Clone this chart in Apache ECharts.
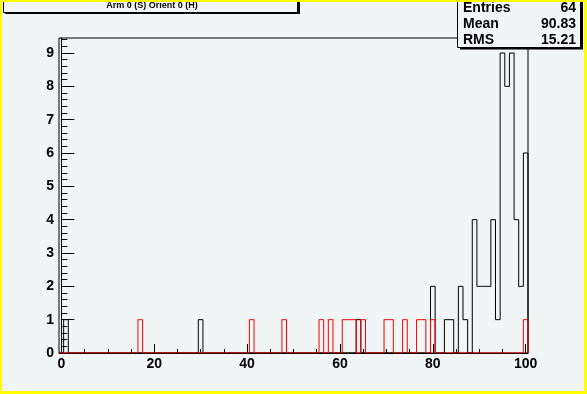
<!DOCTYPE html>
<html><head><meta charset="utf-8">
<script src="https://cdn.jsdelivr.net/npm/echarts@6/dist/echarts.min.js"></script>
<style>html,body{margin:0;padding:0;background:#f2f5f6;overflow:hidden}#c{width:587px;height:394px;}</style>
</head><body><div id="c"></div>
<script>
// ---- data ----
const titleText = 'Arm 0 (S) Orient 0 (H)';
const statNames = ['Entries', 'Mean', 'RMS'];
const statValues = ['64', '90.83', '15.21'];
const xTickLabels = [0, 20, 40, 60, 80, 100];
const xMinorTicks = [5, 10, 15, 25, 30, 35, 45, 50, 55, 65, 70, 75, 85, 90, 95];
const yTickLabels = [0, 1, 2, 3, 4, 5, 6, 7, 8, 9];
const histLow = -0.5, histHigh = 100.5, binWidth = 1;
const blackBins = [1, 30, 64, 80, 83, 84, 86, 87, 89, 90, 91, 92, 93, 94, 95, 96, 97, 98, 99, 100];
const blackCounts = [1, 1, 1, 2, 1, 1, 2, 1, 4, 2, 2, 2, 4, 1, 9, 8, 9, 4, 2, 6];
const redBins = [17, 41, 48, 56, 58, 61, 62, 63, 65, 70, 71, 74, 77, 78, 80, 100];
const redCounts = [1, 1, 1, 1, 1, 1, 1, 1, 1, 1, 1, 1, 1, 1, 1, 1];

// ---- build outlines ----
function outline(bins, counts) {
  const n = Math.round((histHigh - histLow) / binWidth);
  const full = new Array(n).fill(0);
  bins.forEach((b, i) => { full[Math.round((b - histLow - binWidth / 2) / binWidth)] = counts[i]; });
  const pts = [[histLow, 0]];
  for (let i = 0; i < n; i++) {
    const lo = histLow + i * binWidth, hi = lo + binWidth;
    pts.push([lo, full[i]], [hi, full[i]]);
  }
  pts.push([histHigh, 0]);
  return pts;
}
const yMinor = [];
for (let v = 0; v <= 9.4001; v += 0.2) yMinor.push(+v.toFixed(1));

const BG = '#f2f5f6';
const font = 'Liberation Sans, Arial, sans-serif';
const chart = echarts.init(document.getElementById('c'), null, { renderer: 'canvas' });
const yMax = 9.45;
chart.setOption({
  animation: false,
  backgroundColor: BG,
  grid: { left: 59, right: 59, top: 38, bottom: 41, show: true, borderColor: '#000', borderWidth: 1, backgroundColor: BG },
  xAxis: [{
    type: 'value', min: histLow, max: histHigh,
    axisLine: { show: true, lineStyle: { color: '#000' } },
    splitLine: { show: false },
    axisTick: { show: true, inside: true, length: 9, customValues: xTickLabels, lineStyle: { color: '#000' } },
    axisLabel: { customValues: xTickLabels, color: '#000', fontWeight: 'bold', fontSize: 14, fontFamily: font, margin: 4 }
  }, {
    type: 'value', min: histLow, max: histHigh, position: 'bottom',
    axisLine: { show: false }, splitLine: { show: false },
    axisTick: { show: true, inside: true, length: 4, customValues: xMinorTicks, lineStyle: { color: '#000' } },
    axisLabel: { show: false }
  }],
  yAxis: [{
    type: 'value', min: 0, max: yMax, interval: 1,
    axisLine: { show: true, lineStyle: { color: '#000' } },
    splitLine: { show: false },
    axisTick: { show: true, inside: true, length: 13, customValues: yTickLabels, lineStyle: { color: '#000' } },
    axisLabel: { customValues: yTickLabels, color: '#000', fontWeight: 'bold', fontSize: 14, fontFamily: font, margin: 5 }
  }, {
    type: 'value', min: 0, max: yMax, position: 'left',
    axisLine: { show: false }, splitLine: { show: false },
    axisTick: { show: true, inside: true, length: 6, customValues: yMinor, lineStyle: { color: '#000' } },
    axisLabel: { show: false }
  }],
  series: [{
    type: 'line', data: outline(blackBins, blackCounts), showSymbol: false, symbol: 'none',
    lineStyle: { color: '#000', width: 1 }, z: 3
  }, {
    type: 'line', data: outline(redBins, redCounts), showSymbol: false, symbol: 'none',
    lineStyle: { color: '#ff0000', width: 1 }, z: 4
  }],
  graphic: [
    { type: 'rect', shape: { x: 0.5, y: 0.5, width: 585, height: 392 }, style: { fill: 'none', stroke: '#ffff00', lineWidth: 3 }, z: 100 },
    // title box
    { type: 'rect', shape: { x: 5, y: -2, width: 295, height: 16 }, style: { fill: '#000' }, z: 50 },
    { type: 'rect', shape: { x: 3.5, y: -2.5, width: 294, height: 15 }, style: { fill: BG, stroke: '#000', lineWidth: 1 }, z: 51 },
    { type: 'text', x: 152, y: 6, style: { text: titleText, font: 'bold 9px ' + font, fill: '#000', align: 'center', verticalAlign: 'middle' }, z: 52 },
    // stats box
    { type: 'rect', shape: { x: 460, y: 0, width: 123, height: 49.5 }, style: { fill: '#000' }, z: 50 },
    { type: 'rect', shape: { x: 457.5, y: -1.5, width: 123, height: 49 }, style: { fill: BG, stroke: '#000', lineWidth: 1 }, z: 51 },
    ...statNames.map((s, i) => ({ type: 'text', x: 463, y: 8 + i * 16.3, style: { text: s, font: 'bold 14px ' + font, fill: '#000', align: 'left', verticalAlign: 'middle' }, z: 52 })),
    ...statValues.map((s, i) => ({ type: 'text', x: 576, y: 8 + i * 16.3, style: { text: s, font: 'bold 14px ' + font, fill: '#000', align: 'right', verticalAlign: 'middle' }, z: 52 }))
  ]
});
</script></body></html>
